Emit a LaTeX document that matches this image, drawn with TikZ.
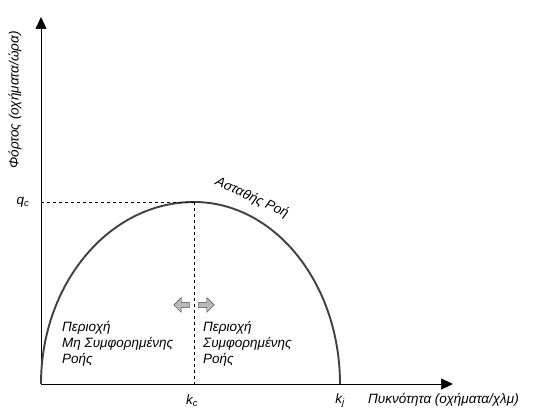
\documentclass[tikz,border=0pt]{standalone}
\usepackage{fontspec}
\setmainfont{Liberation Sans}
\usetikzlibrary{arrows.meta,positioning,shapes.arrows}

\begin{document}
\begin{tikzpicture}[x=1pt,y=1pt,
    font=\itshape\fontsize{13.5}{16}\selectfont,
    axis/.style={-{Triangle[length=12pt,width=11pt]},line width=0.7pt},
    guide/.style={dashed,line width=0.7pt},
    flow/.style={single arrow,draw=gray!50!black,fill=gray!55,
        minimum height=16pt,minimum width=15pt,single arrow head extend=2.5pt,inner sep=1pt}]
    \useasboundingbox (0,0) rectangle (539,409);
    % axes
    \coordinate (O) at (41,25);
    \coordinate (ytop) at (41,392);
    \coordinate (xend) at (453,25);
    \coordinate (peak) at (194,207);
    \coordinate (kc) at (194,25);
    \coordinate (kj) at (340,25);
    \coordinate (qc) at (41,207);
    \draw[axis] (O) -- (ytop);
    \draw[axis] (O) -- (xend);
    % flow-density curve
    \draw[line width=1.9pt,black!75] (O) arc[start angle=180,end angle=90,x radius=153,y radius=182]
        arc[start angle=90,end angle=0,x radius=146,y radius=182];
    \draw[guide] (qc) -- (peak);
    \draw[guide] (peak) -- (kc);
    % labels
    \node (qlab) at (23,207) {q\textsubscript{c}};
    \node (kclab) at (192,8) {k\textsubscript{c}};
    \node (kjlab) at (340,8) {k\textsubscript{j}};
    \node[anchor=west,inner sep=0pt] (xlab) at (368,9) {Πυκνότητα (οχήματα/χλμ)};
    \node[rotate=90] (ylab) at (15,309) {Φόρτος (οχήματα/ώρα)};
    \node[rotate=-25] (unstable) at (252,211) {Ασταθής Ροή};
    \node[anchor=north west,align=left,inner sep=0pt] (free) at (62,88) {Περιοχή\\Μη Συμφορημένης\\Ροής};
    \node[anchor=north west,align=left,inner sep=0pt] (cong) at (203,88) {Περιοχή\\Συμφορημένης\\Ροής};
    \node[flow,shape border rotate=180] (toleft) at (183,104) {};
    \node[flow] (toright) at (205,104) {};
\end{tikzpicture}
\end{document}
